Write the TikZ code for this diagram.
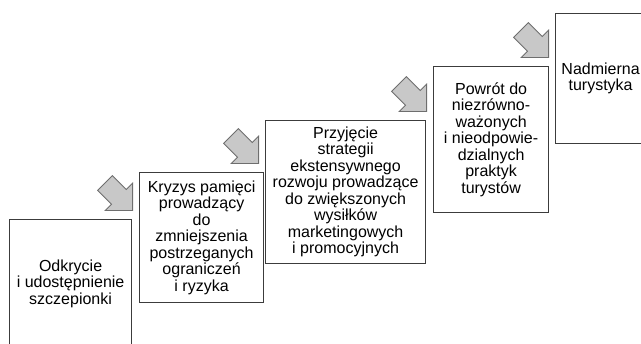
\documentclass[tikz,border=0pt]{standalone}
\usepackage{fontspec}
\setmainfont{Liberation Sans}
\usetikzlibrary{shapes.arrows,calc}
\definecolor{boxLine}{HTML}{3C3C3C}
\definecolor{arrowFill}{HTML}{C8C8C8}
\definecolor{arrowLine}{HTML}{6E6E6E}

\begin{document}
\begin{tikzpicture}[x=1pt, y=1pt, semithick]
        \tikzset{
           stage/.style={
                        rectangle,
                        draw=boxLine,
                        line width=1.2pt,
                        fill=none,
                        anchor=north west,
                        align=center,
                        inner sep=2pt,
                        text=black,
                        font=\fontsize{16}{16.5}\selectfont
                       },
           stepArrow/.style={
                        single arrow,
                        single arrow head extend=9pt,
                        single arrow tip angle=90,
                        minimum height=39pt,
                        inner xsep=0pt,
                        inner ysep=10pt,
                        draw=arrowLine,
                        fill=arrowFill,
                        line width=0.8pt,
                        rotate=-45,
                        anchor=tip
                       },
                 };
    \useasboundingbox (0,0) rectangle (641,344);
    %--------------------
        \node[stage, minimum width=122pt, minimum height=128pt] (discovery) at (9,125)  {Odkrycie\\i udostępnienie\\szczepionki};
        \node[stage, minimum width=124pt, minimum height=130pt] (crisis)    at (139,172) {Kryzys pamięci\\prowadzący\\do\\zmniejszenia\\postrzeganych\\ograniczeń\\i ryzyka};
        \node[stage, minimum width=160pt, minimum height=143pt] (strategy)  at (265,224) {Przyjęcie\\strategii\\ekstensywnego\\rozwoju prowadzące\\do zwiększonych\\wysiłków\\marketingowych\\i promocyjnych};
        \node[stage, minimum width=115pt, minimum height=146pt] (relapse)   at (433,278) {Powrót do\\niezrówno-\\ważonych\\i nieodpowie-\\dzialnych\\praktyk\\turystów};
        \node[stage, minimum width=90pt,  minimum height=130pt] (overtourism) at (555,331) {Nadmierna\\turystyka};
    %--------------------
        \node[stepArrow] (arrowA) at ($(crisis.north west |- discovery.north west)+(-6,8)$)      {};
        \node[stepArrow] (arrowB) at ($(strategy.north west |- crisis.north west)+(-6,8)$)      {};
        \node[stepArrow] (arrowC) at ($(relapse.north west |- strategy.north west)+(-6,8)$)     {};
        \node[stepArrow] (arrowD) at ($(overtourism.north west |- relapse.north west)+(-6,8)$)  {};
    \end{tikzpicture}
\end{document}
